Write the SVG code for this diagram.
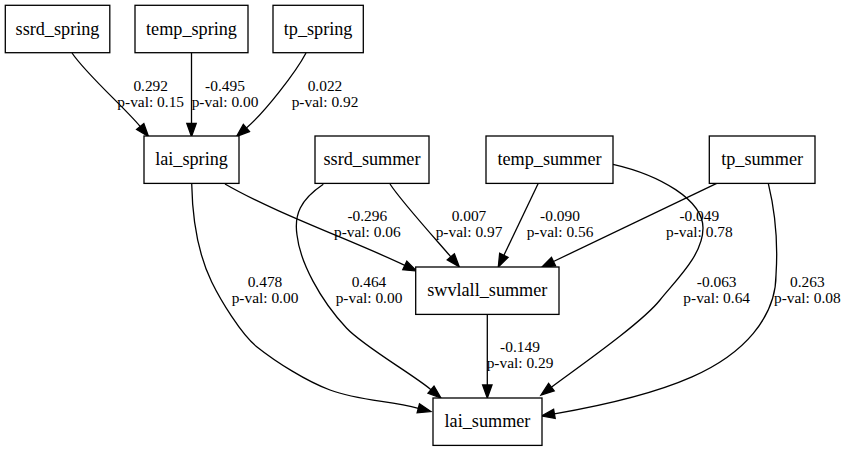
<svg xmlns="http://www.w3.org/2000/svg" width="849" height="451" viewBox="0 0 849 451">
<style>
.node rect{fill:#fff;stroke:#000;stroke-width:1.3}
.node text{font-family:"Liberation Serif","Times New Roman",serif;font-size:18.2px;text-anchor:middle;fill:#000}
.edges path{fill:none;stroke:#000;stroke-width:1.3;marker-end:url(#ah)}
.lbl text{font-family:"Liberation Serif","Times New Roman",serif;font-size:15.4px;text-anchor:middle;fill:#000}
</style>
<defs>
<marker id="ah" markerUnits="userSpaceOnUse" markerWidth="16" markerHeight="12" refX="0" refY="0" viewBox="-1 -6 16 12" orient="auto" overflow="visible">
<path d="M0,-4.7 L13,0 L0,4.7 z" fill="#000" stroke="#000" stroke-width="1.3"/>
</marker>
</defs>
<rect width="849" height="451" fill="#fff"/>
<g id="connectors" class="edges">
<path d="M72,53 C87,75 124,107 140.2,126.5"/>
<path d="M191.5,53 L191.5,123.5"/>
<path d="M306,53 C296,72 265,112 246.4,128"/>
<path d="M225,184 C275,213 354.8,241.4 404.8,265.4"/>
<path d="M191.7,183.5 C192.5,225 200,258 211.7,282 C220.5,300 241.1,334.3 256.7,346.7 C276.2,362.2 306.5,381.3 330,390 C358.2,400.5 389.2,400.8 418.3,408.3"/>
<path d="M390,184 C401,201 437.8,241.6 450.8,256.8"/>
<path d="M323.3,184.3 C300,200 294,215 297,235 C300,262 320,300 346.7,328.3 C364,346.6 411.8,373.7 431,389.7"/>
<path d="M538.3,183.3 L503.9,255.3"/>
<path d="M613,164.3 C660,175 703,200 703,228 C703,255 676,280 660,300 C641.4,323.4 575.4,369.2 551.4,387.2"/>
<path d="M716.7,183.3 L553.5,261.5"/>
<path d="M768.3,183.3 C776,215 778,245 776,275 C776,300 766,318 753.3,333.3 C727.7,364.1 681.8,391.7 554.4,413.8"/>
<path d="M487.3,314.3 L487.3,385"/>
</g>
<g id="labels" class="lbl">
<text x="150.7" y="90.5">0.292</text><text x="150.7" y="106.8">p-val: 0.15</text>
<text x="225" y="90.5">-0.495</text><text x="225" y="106.8">p-val: 0.00</text>
<text x="325" y="90.5">0.022</text><text x="325" y="106.8">p-val: 0.92</text>
<text x="367.3" y="221">-0.296</text><text x="367.3" y="237.3">p-val: 0.06</text>
<text x="469" y="221">0.007</text><text x="469" y="237.3">p-val: 0.97</text>
<text x="560" y="221">-0.090</text><text x="560" y="237.3">p-val: 0.56</text>
<text x="699.3" y="221">-0.049</text><text x="699.3" y="237.3">p-val: 0.78</text>
<text x="265" y="286.5">0.478</text><text x="265" y="302.8">p-val: 0.00</text>
<text x="369" y="286.5">0.464</text><text x="369" y="302.8">p-val: 0.00</text>
<text x="716.7" y="286.5">-0.063</text><text x="716.7" y="302.8">p-val: 0.64</text>
<text x="807.3" y="286.5">0.263</text><text x="807.3" y="302.8">p-val: 0.08</text>
<text x="520" y="352">-0.149</text><text x="520" y="368.3">p-val: 0.29</text>
</g>
<g id="ssrd_spring" class="node"><rect x="5.3" y="5.3" width="104.5" height="47.4"/><text x="57.5" y="34.8">ssrd_spring</text></g>
<g id="temp_spring" class="node"><rect x="135" y="5.3" width="113" height="47.4"/><text x="191.5" y="34.8">temp_spring</text></g>
<g id="tp_spring" class="node"><rect x="273" y="5.3" width="90.3" height="47.4"/><text x="318.1" y="34.8">tp_spring</text></g>
<g id="lai_spring" class="node"><rect x="144" y="136" width="95" height="47.4"/><text x="191.5" y="165.3">lai_spring</text></g>
<g id="ssrd_summer" class="node"><rect x="315" y="136" width="114" height="47.4"/><text x="372" y="165.3">ssrd_summer</text></g>
<g id="temp_summer" class="node"><rect x="486" y="136" width="127" height="47.4"/><text x="549.5" y="165.3">temp_summer</text></g>
<g id="tp_summer" class="node"><rect x="709.3" y="136" width="105.7" height="47.4"/><text x="762.1" y="165.3">tp_summer</text></g>
<g id="swvlall_summer" class="node"><rect x="415.7" y="267" width="143.3" height="47.4"/><text x="487.3" y="296.2">swvlall_summer</text></g>
<g id="lai_summer" class="node"><rect x="433" y="398" width="109" height="47.4"/><text x="487.5" y="427.2">lai_summer</text></g>
</svg>
